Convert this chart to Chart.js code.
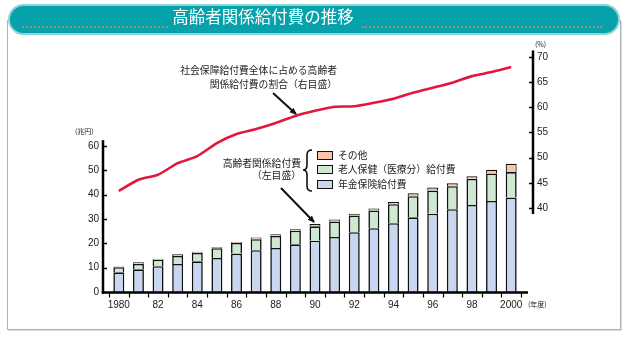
<!DOCTYPE html>
<html><head><meta charset="utf-8">
<script src="https://cdn.jsdelivr.net/npm/chart.js@4.4.0/dist/chart.umd.min.js"></script>
<style>
html,body{margin:0;padding:0;background:#fff;}
#wrap{position:relative;width:626px;height:337px;overflow:hidden;font-family:"Noto Sans CJK JP","Noto Sans",sans-serif;color:#222;}
#panel{position:absolute;left:7px;top:20px;width:612px;height:309px;border:1px solid #a9b4b4;border-top:none;box-shadow:1px 1px 0 #d6dede;}
#cv{position:absolute;left:0;top:0;}
#titlebar{position:absolute;left:8px;top:4px;width:612px;height:31px;background:#05a2ac;border:2px solid #8fd4d4;border-radius:16px;box-sizing:border-box;}
.dots{position:absolute;top:20px;height:0;border-top:2px dotted #b98a6c;opacity:.8;}
#title{position:absolute;left:168px;top:6px;width:190px;text-align:center;color:#fff;font-size:16.5px;line-height:20px;white-space:nowrap;}
.t{position:absolute;font-size:9.8px;line-height:12px;white-space:nowrap;}
.u{position:absolute;font-size:7px;line-height:8px;white-space:nowrap;font-family:"Noto Sans CJK JP",sans-serif;}
.box{position:absolute;width:14px;height:7px;border:1.5px solid #111;}
svg{position:absolute;left:0;top:0;}
</style></head>
<body>
<div id="wrap">
  <div id="panel"></div>
  <canvas id="cv" width="626" height="337"></canvas>
  <div id="titlebar">
    <div class="dots" style="left:12px;width:146px;"></div>
    <div class="dots" style="left:352px;width:240px;"></div>
  </div>
  <div id="title">高齢者関係給付費の推移</div>

  <div class="t" style="right:289px;top:64px;text-align:right;">社会保障給付費全体に占める高齢者</div>
  <div class="t" style="right:289px;top:78px;text-align:right;">関係給付費の割合（右目盛）</div>

  <div class="t" style="right:325px;top:157px;text-align:right;">高齢者関係給付費</div>
  <div class="t" style="right:325px;top:169px;text-align:right;">（左目盛）</div>

  <div class="box" style="left:317px;top:151px;background:#f9c6aa;"></div>
  <div class="t" style="left:338px;top:149px;">その他</div>
  <div class="box" style="left:317px;top:165px;background:#cfe8d2;"></div>
  <div class="t" style="left:338px;top:163px;">老人保健（医療分）給付費</div>
  <div class="box" style="left:317px;top:180px;background:#c8d7ef;"></div>
  <div class="t" style="left:338px;top:178px;">年金保険給付費</div>

  <div class="u" style="left:75px;top:127px;">(兆円)</div>
  <div class="u" style="left:535px;top:40px;">(%)</div>
  <div class="u" style="left:528px;top:300px;">(年度)</div>

  <svg width="626" height="337">
    <defs>
      <marker id="ah" markerWidth="8" markerHeight="8" refX="6" refY="4" orient="auto" markerUnits="userSpaceOnUse">
        <path d="M0,1 L7,4 L0,7 Z" fill="#111"/>
      </marker>
    </defs>
    <line x1="273" y1="93" x2="296" y2="114" stroke="#111" stroke-width="2" marker-end="url(#ah)"/>
    <line x1="281" y1="188" x2="314" y2="222" stroke="#111" stroke-width="2" marker-end="url(#ah)"/>
    <path d="M312,150 Q307,150 307,155 L307,165 Q307,170 303,170 Q307,170 307,175 L307,186 Q307,191 312,191" fill="none" stroke="#111" stroke-width="1.6"/>
  </svg>
</div>
<script>
const years = ['1980','1981','1982','1983','1984','1985','1986','1987','1988','1989','1990','1991','1992','1993','1994','1995','1996','1997','1998','1999','2000'];
const yearLabels = ['1980','','82','','84','','86','','88','','90','','92','','94','','96','','98','','2000'];
const pension = [8.1,9.3,10.6,11.5,12.6,14.0,15.8,17.2,18.1,19.6,21.1,22.6,24.6,26.2,28.3,30.7,32.2,34.0,35.8,37.4,38.8];
const elderlyHealth = [2.1,2.3,2.7,3.3,3.5,4.0,4.4,4.5,5.0,5.6,5.9,6.4,6.8,7.3,7.8,8.7,9.5,9.5,10.7,11.3,10.5];
const others = [0.3,0.6,0.4,0.7,0.4,0.4,0.4,0.7,0.6,0.6,0.9,0.8,0.8,0.8,0.9,1.2,1.2,1.2,1.1,1.5,3.4];
const shareRatio = [43.4,45.6,46.6,48.9,50.3,52.9,54.7,55.7,56.9,58.3,59.3,60.1,60.2,60.9,61.7,62.9,63.9,64.9,66.2,67.0,68.0];
const leftTicks = [0,10,20,30,40,50,60];
const rightTicks = [40,45,50,55,60,65,70];

const axisPlugin = {
  id: 'axisLines',
  afterDatasetsDraw(chart) {
    const ctx = chart.ctx, ca = chart.chartArea;
    const yL = chart.scales.y, yR = chart.scales.y2, xs = chart.scales.x;
    ctx.save();
    ctx.strokeStyle = '#000';
    const xL = ca.left - 6;
    const y0 = yL.getPixelForValue(0) + 0.5;
    ctx.lineWidth = 2.5;
    ctx.beginPath(); ctx.moveTo(xL, yL.getPixelForValue(62.4)); ctx.lineTo(xL, y0 + 1.25); ctx.stroke();
    ctx.lineWidth = 1.5;
    leftTicks.forEach(v => { if (v === 0) return; const y = Math.round(yL.getPixelForValue(v)) + 0.5; ctx.beginPath(); ctx.moveTo(xL, y); ctx.lineTo(xL + 4, y); ctx.stroke(); });
    ctx.lineWidth = 2.5;
    ctx.beginPath(); ctx.moveTo(xL - 1.25, y0); ctx.lineTo(ca.right + 7, y0); ctx.stroke();
    const step = xs.getPixelForValue(1) - xs.getPixelForValue(0);
    ctx.lineWidth = 1.2;
    for (let i = 0; i <= years.length; i++) {
      const x = Math.round(xs.getPixelForValue(0) + (i - 0.5) * step) + 0.5;
      ctx.beginPath(); ctx.moveTo(x, y0); ctx.lineTo(x, y0 + 5); ctx.stroke();
    }
    const xR = ca.right + 12;
    ctx.lineWidth = 2.5;
    ctx.beginPath(); ctx.moveTo(xR, yR.getPixelForValue(71.3)); ctx.lineTo(xR, yR.getPixelForValue(38.8)); ctx.stroke();
    ctx.lineWidth = 1.5;
    rightTicks.forEach(v => { const y = Math.round(yR.getPixelForValue(v)) + 0.5; ctx.beginPath(); ctx.moveTo(xR - 4, y); ctx.lineTo(xR, y); ctx.stroke(); });
    ctx.restore();
  }
};

const tickFont = {family: '"Liberation Sans", Arial, sans-serif', size: 10};
new Chart(document.getElementById('cv'), {
  type: 'bar',
  data: {
    labels: yearLabels,
    datasets: [
      {type:'line', label:'割合', data: shareRatio, yAxisID:'y2', borderColor:'#e3173d', borderWidth:2.6, pointRadius:0, tension:0.2, fill:false, order:0},
      {label:'年金保険給付費', data: pension, backgroundColor:'#c8d7ef', borderColor:'#111', borderWidth:1.6, stack:'s', yAxisID:'y', order:1},
      {label:'老人保健（医療分）給付費', data: elderlyHealth, backgroundColor:'#cfe8d2', borderColor:'#111', borderWidth:1.6, stack:'s', yAxisID:'y', order:1},
      {label:'その他', data: others, backgroundColor:'#f9c6aa', borderColor:'#111', borderWidth:1.2, stack:'s', yAxisID:'y', order:1}
    ]
  },
  options: {
    responsive: false,
    animation: false,
    devicePixelRatio: 1,
    layout: {padding: {left: 0, right: 0, top: 50, bottom: 0}},
    datasets: {bar: {barPercentage: 0.56, categoryPercentage: 1.0}},
    plugins: {legend: {display: false}, tooltip: {enabled: false}, title: {display: false}},
    scales: {
      x: {stacked: true, offset: true, grid: {display: false, drawTicks: false}, border: {display: false},
          ticks: {autoSkip: false, maxRotation: 0, padding: 7, font: tickFont, color: '#1a1a1a'},
          afterFit(s) { s.height = 45; }},
      y: {stacked: true, position: 'left', min: 0, max: 99.46,
          grid: {display: false, drawTicks: false}, border: {display: false},
          ticks: {stepSize: 10, padding: 10, font: tickFont, color: '#1a1a1a'},
          afterBuildTicks(s) { s.ticks = leftTicks.map(v => ({value: v})); },
          afterFit(s) { s.width = 109; }},
      y2: {position: 'right', min: 23.31, max: 71.39,
          grid: {display: false, drawTicks: false}, border: {display: false},
          ticks: {stepSize: 5, padding: 16, font: tickFont, color: '#1a1a1a'},
          afterBuildTicks(s) { s.ticks = rightTicks.map(v => ({value: v})); },
          afterFit(s) { s.width = 105; }}
    }
  },
  plugins: [axisPlugin]
});
</script>
</body></html>
